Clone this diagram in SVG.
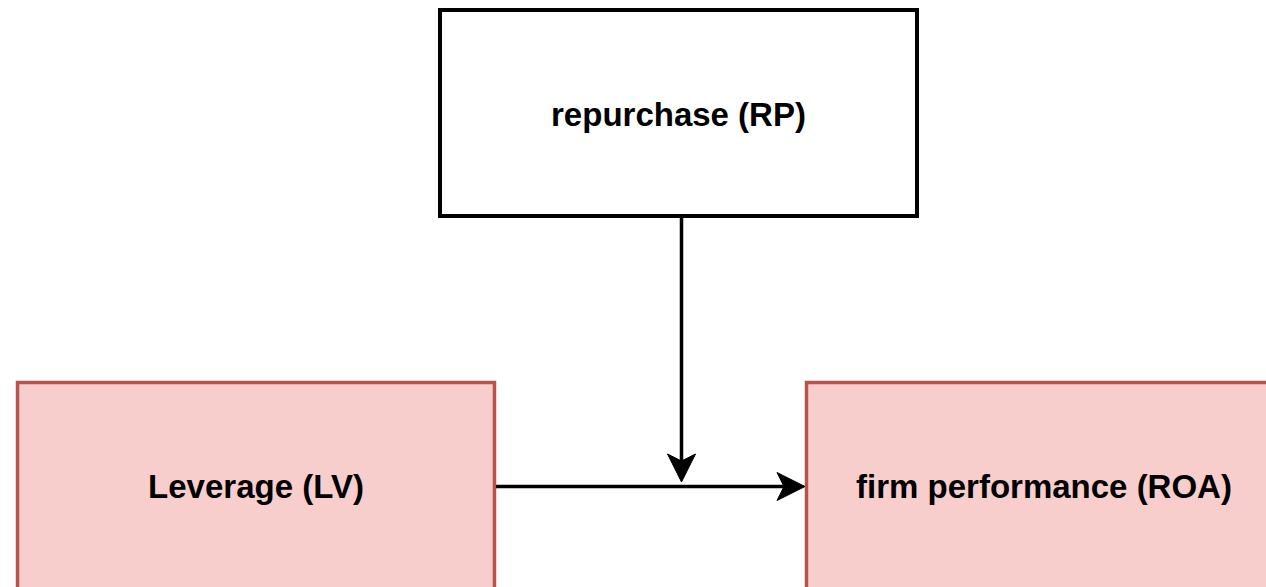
<svg xmlns="http://www.w3.org/2000/svg" width="1266" height="587" viewBox="0 0 1266 587">
  <style>
    .box-plain { fill: #ffffff; stroke: #000000; stroke-width: 4; }
    .box-red { fill: #f8cecc; stroke: #b85450; stroke-width: 3.5; }
    .label { font-family: "Liberation Sans", Arial, sans-serif; font-weight: bold; font-size: 33px; fill: #000000; text-anchor: middle; }
    .edge { fill: none; stroke: #000000; stroke-width: 3.5; }
    .head { fill: #000000; stroke: #000000; stroke-width: 1; stroke-linejoin: miter; }
  </style>
  <rect width="1266" height="587" fill="#ffffff"/>

  <g id="node-rp">
    <rect class="box-plain" x="440" y="10" width="477" height="206"/>
    <text class="label" x="678.5" y="126">repurchase (RP)</text>
  </g>

  <g id="node-lv">
    <rect class="box-red" x="17.5" y="382.5" width="477" height="210"/>
    <text class="label" x="256" y="498">Leverage (LV)</text>
  </g>

  <g id="node-roa">
    <rect class="box-red" x="806.5" y="382.5" width="477" height="210"/>
    <text class="label" x="1044" y="498">firm performance (ROA)</text>
  </g>

  <g id="connectors">
    <!-- LV to ROA -->
    <line class="edge" x1="496" y1="486.5" x2="790" y2="486.5"/>
    <path class="head" d="M805,486.5 L777,472.5 L784,486.5 L777,500.5 Z"/>
    <!-- RP onto the LV to ROA edge -->
    <line class="edge" x1="681.5" y1="218" x2="681.5" y2="466"/>
    <path class="head" d="M681.5,482 L667.5,454 L681.5,461 L695.5,454 Z"/>
  </g>
</svg>
